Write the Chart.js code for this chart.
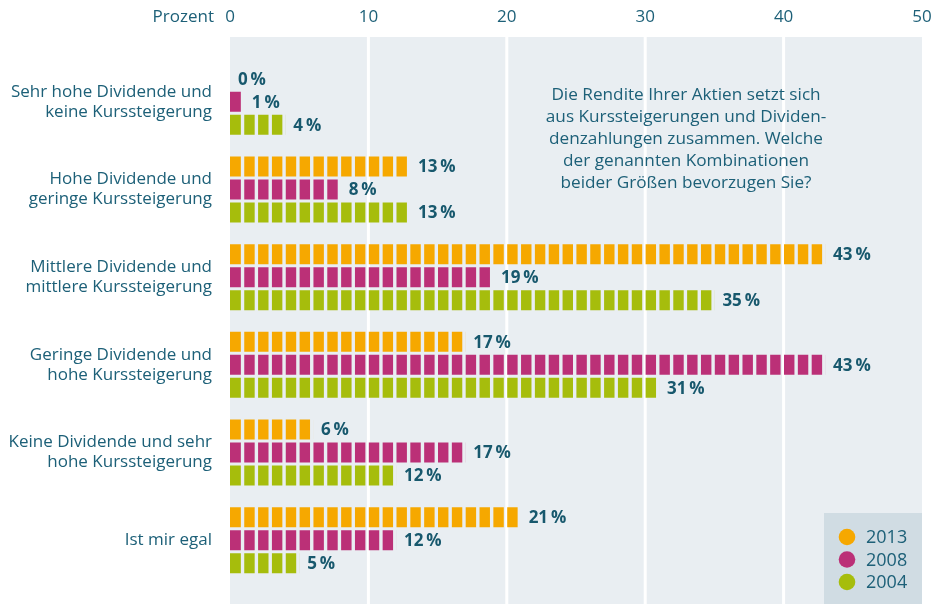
<!DOCTYPE html>
<html>
<head>
<meta charset="utf-8">
<script src="https://cdn.jsdelivr.net/npm/chart.js@4.4.1/dist/chart.umd.min.js"></script>
<style>
html,body{margin:0;padding:0;background:#ffffff;}
#wrap{width:931px;height:604px;position:relative;}
</style>
</head>
<body>
<div id="wrap"><canvas id="c" width="931" height="604"></canvas></div>
<script>
const categories = [
  ["Sehr hohe Dividende und", "keine Kurssteigerung"],
  ["Hohe Dividende und", "geringe Kurssteigerung"],
  ["Mittlere Dividende und", "mittlere Kurssteigerung"],
  ["Geringe Dividende und", "hohe Kurssteigerung"],
  ["Keine Dividende und sehr", "hohe Kurssteigerung"],
  "Ist mir egal"
];
const seriesNames = ["2013", "2008", "2004"];
const values2013 = [0, 13, 43, 17, 6, 21];
const values2008 = [1, 8, 19, 43, 17, 12];
const values2004 = [4, 13, 35, 31, 12, 5];
const xTicks = [0, 10, 20, 30, 40, 50];
const axisTitle = "Prozent";
const questionLines = [
  "Die Rendite Ihrer Aktien setzt sich",
  "aus Kurssteigerungen und Dividen-",
  "denzahlungen zusammen. Welche",
  "der genannten Kombinationen",
  "beider Größen bevorzugen Sie?"
];

const colors = ["#f6a800", "#bb3077", "#a6bd0c"];
const TEXT = "#1d6078";
const LABEL = "#17586d";
const PLOT_BG = "#e9eef2";
const FONT = "'Open Sans', sans-serif";

const decorPlugin = {
  id: 'decor',
  beforeDatasetsDraw(chart) {
    const ctx = chart.ctx, a = chart.chartArea, xs = chart.scales.x;
    const top = a.top - 21, bottom = chart.height;
    ctx.save();
    ctx.fillStyle = PLOT_BG;
    ctx.fillRect(a.left, top, a.right - a.left, bottom - top);
    ctx.fillStyle = "#ffffff";
    xTicks.slice(1, -1).forEach(v => {
      const x = xs.getPixelForValue(v);
      ctx.fillRect(x - 1.5, top, 3, bottom - top);
    });
    // question text
    ctx.fillStyle = TEXT;
    ctx.font = "17.2px " + FONT;
    ctx.textAlign = "center";
    ctx.textBaseline = "middle";
    const cx = xs.getPixelForValue(32.95);
    questionLines.forEach((l, i) => ctx.fillText(l, cx, a.top + 37 + i * 22));
    // legend box
    const bx = a.right - 98, by = chart.height - 91;
    ctx.fillStyle = "#d0dce3";
    ctx.fillRect(bx, by, a.right - bx, chart.height - by);
    chart.data.datasets.forEach((ds, i) => {
      const y = by + 24 + i * 22.5;
      ctx.fillStyle = ds.backgroundColor;
      ctx.beginPath();
      ctx.arc(bx + 23, y, 8.3, 0, Math.PI * 2);
      ctx.fill();
      ctx.fillStyle = TEXT;
      ctx.textAlign = "left";
      ctx.font = "18px " + FONT;
      ctx.fillText(ds.label, bx + 42, y + 1);
    });
    // axis title
    ctx.textAlign = "right";
    ctx.font = "17px " + FONT;
    ctx.fillStyle = TEXT;
    ctx.fillText(axisTitle, xs.getPixelForValue(0) - 16, 17);
    ctx.restore();
    // clip bars into 1%-blocks
    ctx.save();
    ctx.beginPath();
    const gap = 3;
    for (let i = 0; i < 50; i++) {
      const x0 = xs.getPixelForValue(i) + (i > 0 ? 0.4 : 0), x1 = xs.getPixelForValue(i + 1);
      ctx.rect(x0, a.top, x1 - gap - x0, a.bottom - a.top);
    }
    ctx.clip();
  },
  afterDatasetsDraw(chart) {
    const ctx = chart.ctx;
    ctx.restore();
    ctx.save();
    ctx.fillStyle = LABEL;
    ctx.font = "bold 17px " + FONT;
    ctx.textAlign = "left";
    ctx.textBaseline = "middle";
    chart.data.datasets.forEach((ds, di) => {
      const meta = chart.getDatasetMeta(di);
      meta.data.forEach((el, i) => {
        ctx.fillText(ds.data[i] + "\u2009%", el.x + 8, el.y + 1);
      });
    });
    ctx.restore();
  }
};

new Chart(document.getElementById('c'), {
  type: 'bar',
  data: {
    labels: categories,
    datasets: [
      { label: seriesNames[0], data: values2013, backgroundColor: colors[0] },
      { label: seriesNames[1], data: values2008, backgroundColor: colors[1] },
      { label: seriesNames[2], data: values2004, backgroundColor: colors[2] }
    ]
  },
  options: {
    indexAxis: 'y',
    responsive: false,
    animation: false,
    layout: { padding: { top: 8, bottom: 20, right: 9, left: 0 } },
    datasets: { bar: { categoryPercentage: 0.787, barPercentage: 0.87, inflateAmount: 0, borderWidth: 0 } },
    plugins: { legend: { display: false }, tooltip: { enabled: false } },
    scales: {
      x: {
        position: 'top',
        min: 0, max: 50,
        grid: { display: false, drawTicks: false },
        border: { display: false },
        afterBuildTicks(scale) { scale.ticks = xTicks.map(v => ({ value: v })); },
        afterFit(scale) { scale.height = 50; scale.paddingLeft = 0; scale.paddingRight = 0; },
        ticks: { color: TEXT, font: { family: FONT, size: 17 }, padding: 31, maxRotation: 0 }
      },
      y: {
        grid: { display: false, drawTicks: false },
        border: { display: false },
        afterFit(scale) { scale.width = 230; scale.paddingTop = 0; scale.paddingBottom = 0; },
        ticks: { color: TEXT, font: { family: FONT, size: 17, lineHeight: 1.18 }, padding: 18 }
      }
    }
  },
  plugins: [decorPlugin]
});
</script>
</body>
</html>
